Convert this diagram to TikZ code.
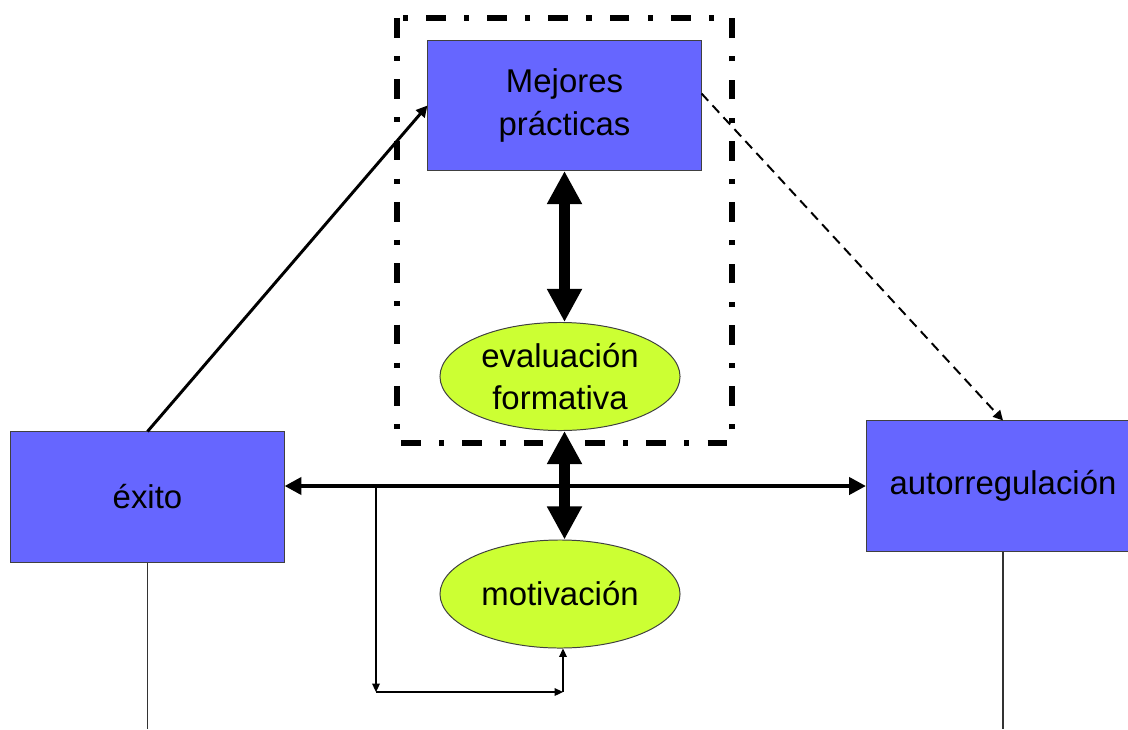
\documentclass[tikz,border=0pt]{standalone}
\usepackage{fontspec}
\setmainfont{Liberation Sans}
\usetikzlibrary{arrows.meta,shapes.geometric}
\definecolor{modra}{RGB}{102,102,255}
\definecolor{zelena}{RGB}{204,255,51}

\begin{document}
\begin{tikzpicture}[x=0.025cm,y=-0.025cm]
    \tikzstyle{blok}= [draw=black!75,line width=0.7pt,fill=modra,minimum width=6.825cm,minimum height=3.25cm,align=center,font=\fontsize{23.4}{30}\selectfont]
    \tikzstyle{elipsa}= [ellipse,draw=black!75,line width=0.7pt,fill=zelena,minimum width=6cm,minimum height=2.7cm,inner sep=0pt,align=center,font=\fontsize{23.4}{30}\selectfont]
    \tikzstyle{sipkaT}= [line width=8.5pt,{Triangle[width=23.5pt,length=23.5pt]}-{Triangle[width=23.5pt,length=23.5pt]}]
    \tikzstyle{sipkaH}= [line width=3.2pt,{Triangle[width=12pt,length=12pt]}-{Triangle[width=12pt,length=12pt]}]
    \tikzstyle{sipkaD}= [line width=2.1pt,-{Triangle[width=8pt,length=8pt]}]
    \tikzstyle{sipkaC}= [line width=1.4pt,dash pattern=on 7pt off 4.5pt,-{Triangle[width=7pt,length=7pt]}]
    \tikzstyle{tenka}= [line width=0.8pt,-{Triangle[width=5.5pt,length=6pt]}]
    \tikzstyle{ramec}= [line width=3.6pt,dash pattern=on 14pt off 13pt on 3.6pt off 13pt]
  \useasboundingbox (0,0) rectangle (1128,729);
  \coordinate (dno) at (0,729);

  % uzly
  \node[blok] (mejores) at (564.5,105.5) {Mejores\\prácticas};
  \node[blok] (exito) at (147.5,497) {éxito};
  \node[blok] (autorreg) at (1003,486) {autorregulación};
  \node[elipsa] (eval) at (560,376.5) {evaluación\\formativa};
  \node[elipsa] (motiv) at (560,594) {motivación};

  % ramec okolo
  \draw[ramec] (397,18) rectangle (732,443);

  % sipky
  \draw[sipkaT] (mejores.south) -- (mejores.south |- eval.north);
  \draw[sipkaT] (mejores.south |- eval.south) -- (mejores.south |- motiv.north);
  \draw[sipkaH] (exito.east |- autorreg.west) -- (autorreg.west);
  \draw[sipkaD] (exito.north) -- (mejores.west);
  \draw[sipkaC] (mejores.5) -- (autorreg.north);

  \coordinate (odb) at (376,487);
  \coordinate (roh) at (376,692);
  \coordinate (roh2) at (563,692);
  \draw[tenka] (odb) -- (roh);
  \draw[tenka] (roh) -- (roh2);
  \draw[tenka] (roh2) -- (roh2 |- motiv.south);

  \foreach \n in {exito,autorreg}
    \draw[line width=0.8pt,black!80] (\n.south) -- (\n.south |- dno);

\end{tikzpicture}
\end{document}
